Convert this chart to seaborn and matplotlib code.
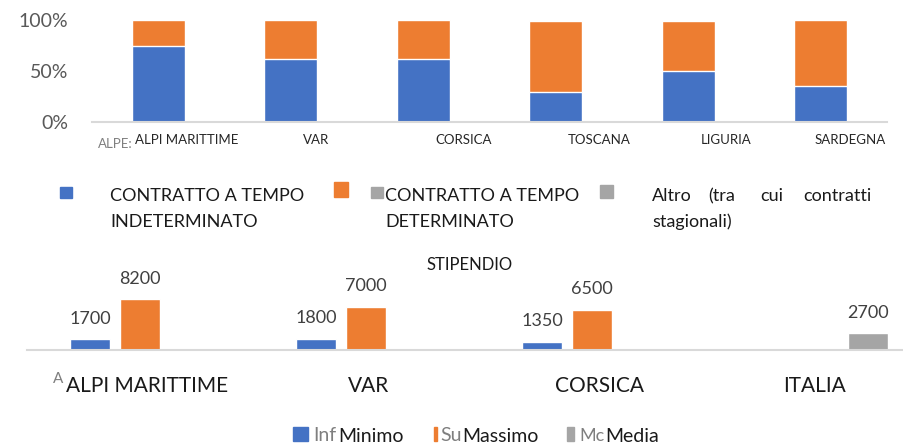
import numpy as np
import pandas as pd
import matplotlib
matplotlib.use("Agg")
import matplotlib.pyplot as plt
from matplotlib.patches import Rectangle
import seaborn as sns

sns.set_theme(style="white")
plt.rcParams['font.family'] = ['Lato', 'DejaVu Sans']

# ---------------- data ----------------
regioni = ["ALPI MARITTIME", "VAR", "CORSICA", "TOSCANA", "LIGURIA", "SARDEGNA"]
indeterminato = [75, 62, 62, 29, 50, 35]
determinato = [25, 38, 38, 70, 49, 65]
altro = [0, 0, 0, 1, 1, 0]

zone = ["ALPI MARITTIME", "VAR", "CORSICA", "ITALIA"]
minimo = [1700, 1800, 1350, np.nan]
massimo = [8200, 7000, 6500, np.nan]
media = [np.nan, np.nan, np.nan, 2700]
serie = ["Minimo", "Massimo", "Media"]

BLUE, ORANGE, GRAY = "#4472C4", "#ED7D31", "#A5A5A5"
AXIS = "#D9D9D9"
W, H = 904, 445

fig = plt.figure(figsize=(W / 100, H / 100), dpi=100)

# ---------------- top: 100% stacked bars ----------------
ax1 = fig.add_axes([92 / W, 1 - 122 / H, 795 / W, 102 / H])
ind = np.array(indeterminato, float)
det = np.array(determinato, float)
alt = np.array(altro, float)
tot = ind + det + alt
sns.barplot(x=regioni, y=tot, color=GRAY, width=0.4, saturation=1, ax=ax1)
sns.barplot(x=regioni, y=ind + det, color=ORANGE, width=0.4, saturation=1, ax=ax1)
sns.barplot(x=regioni, y=ind, color=BLUE, width=0.4, saturation=1, ax=ax1)
ax1.set_xlim(-0.5, len(regioni) - 0.5)
ax1.set_ylim(0, 100)
ax1.set_yticks([0, 50, 100])
ax1.set_yticklabels(["0%", "50%", "100%"])
for s in ["top", "right", "left"]:
    ax1.spines[s].set_visible(False)
ax1.spines["bottom"].set_color(AXIS)
ax1.spines["bottom"].set_linewidth(1.5)
ax1.set_xlabel("")
ax1.set_ylabel("")
ax1.tick_params(axis="y", length=0, pad=17, labelsize=14, labelcolor="#595959")
ax1.tick_params(axis="x", length=0, pad=9, labelsize=9.5, labelcolor="#262626")
top_dx = [28, 25, 40, 43, 38, 29]  # label offsets in px
ax1.set_xticks([i + d / 132.5 for i, d in enumerate(top_dx)])
ax1.set_xticklabels(regioni)

# ---------------- bottom: grouped bars ----------------
ax2 = fig.add_axes([27 / W, 1 - 350 / H, 904 / W, 70 / H])
df = pd.DataFrame({
    "zona": zone * 3,
    "serie": ["Minimo"] * 4 + ["Massimo"] * 4 + ["Media"] * 4,
    "valore": minimo + massimo + media,
}).dropna()
sns.barplot(data=df, x="zona", y="valore", hue="serie", hue_order=serie,
            order=zone, palette=[BLUE, ORANGE, GRAY], width=0.664, gap=0.2,
            saturation=1, legend=False, ax=ax2)
ax2.set_xlim(-0.5, len(zone) - 0.5)
ax2.set_ylim(0, 8200 * 70 / 50.7)
for c in ax2.containers:
    ax2.bar_label(c, fmt="%d", padding=9, fontsize=13, color="#404040")
for s in ["top", "right", "left"]:
    ax2.spines[s].set_visible(False)
ax2.spines["bottom"].set_color(AXIS)
ax2.spines["bottom"].set_linewidth(1.5)
ax2.set_yticks([])
ax2.set_xlabel("")
ax2.set_ylabel("")
bot_dx = [7, 3, 8, -3]
ax2.set_xticks([i + d / 226 for i, d in enumerate(bot_dx)])
ax2.set_xticklabels(zone)
ax2.tick_params(axis="x", length=0, pad=19, labelsize=15, labelcolor="#1a1a1a")

# ---------------- overlay for legends / extra text (pixel coords) ----------------
ov = fig.add_axes([0, 0, 1, 1], zorder=-1)
ov.set_xlim(0, W)
ov.set_ylim(H, 0)
ov.axis("off")

# truncated label behind first category
ov.text(133, 148, "ALPE:", ha="right", va="baseline", fontsize=9.5, color="#7f7f7f")
ov.text(63, 383, "A", ha="right", va="baseline", fontsize=11, color="#7f7f7f")

# top legend
LF = 13
ov.add_patch(Rectangle((60, 187), 12, 11, color=BLUE))
ov.text(110, 201, "CONTRATTO A TEMPO", fontsize=LF, color="#1a1a1a", va="baseline")
ov.text(110, 227, "INDETERMINATO", fontsize=LF, color="#1a1a1a", va="baseline")
ov.add_patch(Rectangle((334, 182), 14, 15, color=ORANGE))
ov.add_patch(Rectangle((371, 187), 12, 11, color=GRAY))
ov.text(385, 201, "CONTRATTO A TEMPO", fontsize=LF, color="#1a1a1a", va="baseline")
ov.text(385, 227, "DETERMINATO", fontsize=LF, color="#1a1a1a", va="baseline")
ov.add_patch(Rectangle((600, 185), 13, 13, color=GRAY))
for wx, w in zip([652, 708, 760, 803], ["Altro", "(tra", "cui", "contratti"]):
    ov.text(wx, 201, w, fontsize=LF, color="#1a1a1a", va="baseline")
ov.text(652, 227, "stagionali)", fontsize=LF, color="#1a1a1a", va="baseline")

# bottom title
ov.text(470, 270, "STIPENDIO", ha="center", va="baseline", fontsize=12, color="#1a1a1a")

# bottom legend
ov.add_patch(Rectangle((293, 427), 15, 14, color=BLUE))
ov.text(313, 441, "Inf", fontsize=14, color="#7f7f7f", va="baseline")
ov.text(338, 442, "Minimo", fontsize=14, color="#1a1a1a", va="baseline")
ov.add_patch(Rectangle((434, 427), 3, 14, color=ORANGE))
ov.text(440, 441, "Su", fontsize=14, color="#7f7f7f", va="baseline")
ov.text(462, 442, "Massimo", fontsize=14, color="#1a1a1a", va="baseline")
ov.add_patch(Rectangle((567, 427), 7, 14, color=GRAY))
ov.text(579, 441, "Mc", fontsize=13, color="#7f7f7f", va="baseline")
ov.text(605, 442, "Media", fontsize=14, color="#1a1a1a", va="baseline")

fig.savefig("out.png", dpi=100)
